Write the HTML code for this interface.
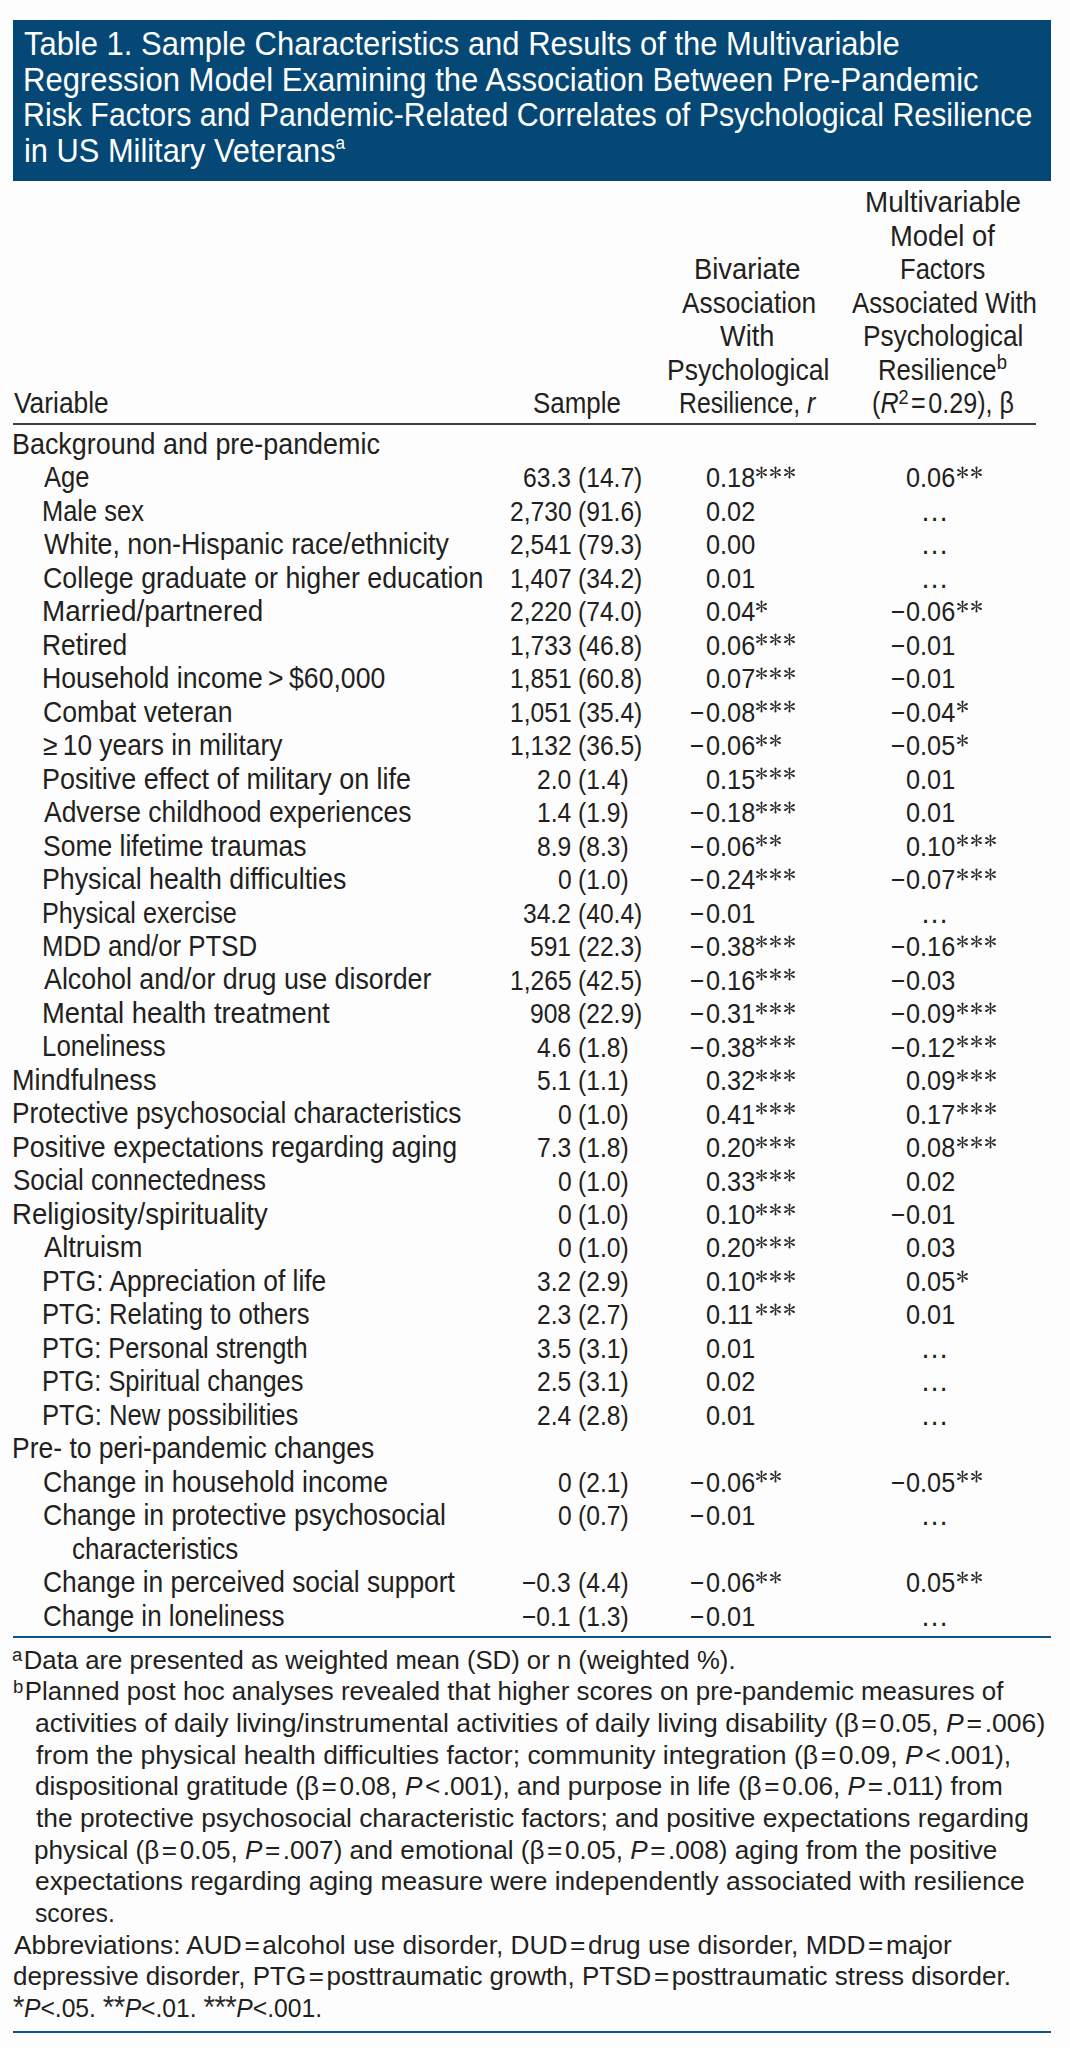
<!DOCTYPE html><html><head><meta charset='utf-8'><style>
*{margin:0;padding:0;box-sizing:border-box}
html,body{width:1070px;height:2048px;background:#fdfdfd;overflow:hidden}
body{position:relative;font-family:"Liberation Sans",sans-serif;color:#231f20}
.t{position:absolute;white-space:nowrap;line-height:1;transform-origin:0 0}
sup{font-size:0.72em;vertical-align:baseline;position:relative;top:-0.42em;line-height:0}
i{font-style:italic}
.ast{font-size:1.2em;letter-spacing:-0.02em;line-height:0;position:relative;top:0.04em;color:#2a2a2a}
.fsup{margin-right:0.08em}
.eq{margin:0 0.1em}
.tsup{font-size:0.56em;top:-0.67em}
.hsup{top:-0.5em}
.ak{position:absolute;width:13px;height:13px}
.ast2{font-size:31.5px;letter-spacing:1.94px;position:relative;top:0px;color:#3a3a3a}
</style></head><body><div style='position:absolute;left:13px;top:19.5px;width:1038px;height:161.5px;background:#054876'></div>
<div style='position:absolute;left:13px;top:423px;width:1023px;height:2px;background:#404040'></div>
<div style='position:absolute;left:13px;top:1636px;width:1038px;height:2px;background:#0f5488'></div>
<div style='position:absolute;left:13px;top:2030.5px;width:1038px;height:2px;background:#0f5488'></div>
<div class='t' style='left:23.57px;top:27.19px;font-size:33.2px;transform:scaleX(0.9328);color:#ffffff'>Table 1. Sample Characteristics and Results of the Multivariable</div>
<div class='t' style='left:22.90px;top:62.79px;font-size:33.2px;transform:scaleX(0.9350);color:#ffffff'>Regression Model Examining the Association Between Pre-Pandemic</div>
<div class='t' style='left:22.96px;top:98.39px;font-size:33.2px;transform:scaleX(0.9135);color:#ffffff'>Risk Factors and Pandemic-Related Correlates of Psychological Resilience</div>
<div class='t' style='left:23.84px;top:133.79px;font-size:33.2px;transform:scaleX(0.9282);color:#ffffff'>in US Military Veterans<sup class="tsup">a</sup></div>
<div class='t' style='left:13.50px;top:388.98px;font-size:28.6px;transform:scaleX(0.9216)'>Variable</div>
<div class='t' style='left:532.59px;top:388.98px;font-size:28.6px;transform:scaleX(0.9063)'>Sample</div>
<div class='t' style='left:694.35px;top:255.06px;font-size:28.6px;transform:scaleX(0.9580)'>Bivariate</div>
<div class='t' style='left:681.50px;top:288.54px;font-size:28.6px;transform:scaleX(0.9179)'>Association</div>
<div class='t' style='left:720.40px;top:322.02px;font-size:28.6px;transform:scaleX(0.9500)'>With</div>
<div class='t' style='left:666.74px;top:355.50px;font-size:28.6px;transform:scaleX(0.9287)'>Psychological</div>
<div class='t' style='left:679.17px;top:388.98px;font-size:28.6px;transform:scaleX(0.8660)'>Resilience, <i>r</i></div>
<div class='t' style='left:865.06px;top:188.10px;font-size:28.6px;transform:scaleX(0.9720)'>Multivariable</div>
<div class='t' style='left:890.39px;top:221.58px;font-size:28.6px;transform:scaleX(0.9556)'>Model of</div>
<div class='t' style='left:900.21px;top:255.06px;font-size:28.6px;transform:scaleX(0.8946)'>Factors</div>
<div class='t' style='left:851.50px;top:288.54px;font-size:28.6px;transform:scaleX(0.9020)'>Associated With</div>
<div class='t' style='left:862.56px;top:322.02px;font-size:28.6px;transform:scaleX(0.9175)'>Psychological</div>
<div class='t' style='left:878.10px;top:355.50px;font-size:28.6px;transform:scaleX(0.8993)'>Resilience<sup class="hsup">b</sup></div>
<div class='t' style='left:872.24px;top:388.98px;font-size:28.6px;transform:scaleX(0.8792)'>(<i>R</i><sup>2</sup><span class="eq">=</span>0.29), β</div>
<div class='t' style='left:12.12px;top:429.78px;font-size:28.6px;transform:scaleX(0.9407)'>Background and pre-pandemic</div>
<div class='t' style='left:43.80px;top:463.26px;font-size:28.6px;transform:scaleX(0.8940)'>Age</div>
<div class='t' style='left:523.24px;top:464.45px;font-size:27.2px;transform:scaleX(0.9050)'>63.3</div>
<div class='t' style='left:578.19px;top:464.45px;font-size:27.2px;transform:scaleX(0.9050)'>(14.7)</div>
<div class='t' style='left:705.67px;top:464.45px;font-size:27.2px;transform:scaleX(0.9294)'>0.18</div>
<div class='t' style='left:906.47px;top:464.45px;font-size:27.2px;transform:scaleX(0.9294)'>0.06</div>
<div class='t' style='left:42.02px;top:496.74px;font-size:28.6px;transform:scaleX(0.8902)'>Male sex</div>
<div class='t' style='left:509.66px;top:497.93px;font-size:27.2px;transform:scaleX(0.9050)'>2,730</div>
<div class='t' style='left:578.19px;top:497.93px;font-size:27.2px;transform:scaleX(0.9050)'>(91.6)</div>
<div class='t' style='left:705.67px;top:497.93px;font-size:27.2px;transform:scaleX(0.9294)'>0.02</div>
<div class='t' style='left:920.30px;top:496.74px;font-size:28.6px'>…</div>
<div class='t' style='left:43.80px;top:530.22px;font-size:28.6px;transform:scaleX(0.9368)'>White, non-Hispanic race/ethnicity</div>
<div class='t' style='left:509.66px;top:531.41px;font-size:27.2px;transform:scaleX(0.9050)'>2,541</div>
<div class='t' style='left:578.19px;top:531.41px;font-size:27.2px;transform:scaleX(0.9050)'>(79.3)</div>
<div class='t' style='left:705.67px;top:531.41px;font-size:27.2px;transform:scaleX(0.9294)'>0.00</div>
<div class='t' style='left:920.30px;top:530.22px;font-size:28.6px'>…</div>
<div class='t' style='left:42.86px;top:563.70px;font-size:28.6px;transform:scaleX(0.9357)'>College graduate or higher education</div>
<div class='t' style='left:509.66px;top:564.89px;font-size:27.2px;transform:scaleX(0.9050)'>1,407</div>
<div class='t' style='left:578.19px;top:564.89px;font-size:27.2px;transform:scaleX(0.9050)'>(34.2)</div>
<div class='t' style='left:705.67px;top:564.89px;font-size:27.2px;transform:scaleX(0.9294)'>0.01</div>
<div class='t' style='left:920.30px;top:563.70px;font-size:28.6px'>…</div>
<div class='t' style='left:41.85px;top:597.18px;font-size:28.6px;transform:scaleX(0.9740)'>Married/partnered</div>
<div class='t' style='left:509.66px;top:598.37px;font-size:27.2px;transform:scaleX(0.9050)'>2,220</div>
<div class='t' style='left:578.19px;top:598.37px;font-size:27.2px;transform:scaleX(0.9050)'>(74.0)</div>
<div class='t' style='left:705.67px;top:598.37px;font-size:27.2px;transform:scaleX(0.9294)'>0.04</div>
<div class='t' style='left:906.47px;top:598.37px;font-size:27.2px;transform:scaleX(0.9294)'>0.06</div>
<div class='t' style='left:891.12px;top:598.37px;font-size:27.2px;transform:scaleX(0.9050)'>−</div>
<div class='t' style='left:41.95px;top:630.66px;font-size:28.6px;transform:scaleX(0.9227)'>Retired</div>
<div class='t' style='left:509.66px;top:631.85px;font-size:27.2px;transform:scaleX(0.9050)'>1,733</div>
<div class='t' style='left:578.19px;top:631.85px;font-size:27.2px;transform:scaleX(0.9050)'>(46.8)</div>
<div class='t' style='left:705.67px;top:631.85px;font-size:27.2px;transform:scaleX(0.9294)'>0.06</div>
<div class='t' style='left:906.47px;top:631.85px;font-size:27.2px;transform:scaleX(0.9294)'>0.01</div>
<div class='t' style='left:891.12px;top:631.85px;font-size:27.2px;transform:scaleX(0.9050)'>−</div>
<div class='t' style='left:41.94px;top:664.14px;font-size:28.6px;transform:scaleX(0.9321)'>Household income > $60,000</div>
<div class='t' style='left:509.66px;top:665.33px;font-size:27.2px;transform:scaleX(0.9050)'>1,851</div>
<div class='t' style='left:578.19px;top:665.33px;font-size:27.2px;transform:scaleX(0.9050)'>(60.8)</div>
<div class='t' style='left:705.67px;top:665.33px;font-size:27.2px;transform:scaleX(0.9294)'>0.07</div>
<div class='t' style='left:906.47px;top:665.33px;font-size:27.2px;transform:scaleX(0.9294)'>0.01</div>
<div class='t' style='left:891.12px;top:665.33px;font-size:27.2px;transform:scaleX(0.9050)'>−</div>
<div class='t' style='left:42.87px;top:697.62px;font-size:28.6px;transform:scaleX(0.9313)'>Combat veteran</div>
<div class='t' style='left:509.66px;top:698.81px;font-size:27.2px;transform:scaleX(0.9050)'>1,051</div>
<div class='t' style='left:578.19px;top:698.81px;font-size:27.2px;transform:scaleX(0.9050)'>(35.4)</div>
<div class='t' style='left:705.67px;top:698.81px;font-size:27.2px;transform:scaleX(0.9294)'>0.08</div>
<div class='t' style='left:690.32px;top:698.81px;font-size:27.2px;transform:scaleX(0.9050)'>−</div>
<div class='t' style='left:906.47px;top:698.81px;font-size:27.2px;transform:scaleX(0.9294)'>0.04</div>
<div class='t' style='left:891.12px;top:698.81px;font-size:27.2px;transform:scaleX(0.9050)'>−</div>
<div class='t' style='left:42.88px;top:731.10px;font-size:28.6px;transform:scaleX(0.9216)'>≥ 10 years in military</div>
<div class='t' style='left:509.66px;top:732.29px;font-size:27.2px;transform:scaleX(0.9050)'>1,132</div>
<div class='t' style='left:578.19px;top:732.29px;font-size:27.2px;transform:scaleX(0.9050)'>(36.5)</div>
<div class='t' style='left:705.67px;top:732.29px;font-size:27.2px;transform:scaleX(0.9294)'>0.06</div>
<div class='t' style='left:690.32px;top:732.29px;font-size:27.2px;transform:scaleX(0.9050)'>−</div>
<div class='t' style='left:906.47px;top:732.29px;font-size:27.2px;transform:scaleX(0.9294)'>0.05</div>
<div class='t' style='left:891.12px;top:732.29px;font-size:27.2px;transform:scaleX(0.9050)'>−</div>
<div class='t' style='left:41.92px;top:764.58px;font-size:28.6px;transform:scaleX(0.9414)'>Positive effect of military on life</div>
<div class='t' style='left:536.81px;top:765.77px;font-size:27.2px;transform:scaleX(0.9050)'>2.0</div>
<div class='t' style='left:578.19px;top:765.77px;font-size:27.2px;transform:scaleX(0.9050)'>(1.4)</div>
<div class='t' style='left:705.67px;top:765.77px;font-size:27.2px;transform:scaleX(0.9294)'>0.15</div>
<div class='t' style='left:906.47px;top:765.77px;font-size:27.2px;transform:scaleX(0.9294)'>0.01</div>
<div class='t' style='left:43.80px;top:798.06px;font-size:28.6px;transform:scaleX(0.9247)'>Adverse childhood experiences</div>
<div class='t' style='left:536.81px;top:799.25px;font-size:27.2px;transform:scaleX(0.9050)'>1.4</div>
<div class='t' style='left:578.19px;top:799.25px;font-size:27.2px;transform:scaleX(0.9050)'>(1.9)</div>
<div class='t' style='left:705.67px;top:799.25px;font-size:27.2px;transform:scaleX(0.9294)'>0.18</div>
<div class='t' style='left:690.32px;top:799.25px;font-size:27.2px;transform:scaleX(0.9050)'>−</div>
<div class='t' style='left:906.47px;top:799.25px;font-size:27.2px;transform:scaleX(0.9294)'>0.01</div>
<div class='t' style='left:42.87px;top:831.54px;font-size:28.6px;transform:scaleX(0.9265)'>Some lifetime traumas</div>
<div class='t' style='left:536.81px;top:832.73px;font-size:27.2px;transform:scaleX(0.9050)'>8.9</div>
<div class='t' style='left:578.19px;top:832.73px;font-size:27.2px;transform:scaleX(0.9050)'>(8.3)</div>
<div class='t' style='left:705.67px;top:832.73px;font-size:27.2px;transform:scaleX(0.9294)'>0.06</div>
<div class='t' style='left:690.32px;top:832.73px;font-size:27.2px;transform:scaleX(0.9050)'>−</div>
<div class='t' style='left:906.47px;top:832.73px;font-size:27.2px;transform:scaleX(0.9294)'>0.10</div>
<div class='t' style='left:41.93px;top:865.02px;font-size:28.6px;transform:scaleX(0.9354)'>Physical health difficulties</div>
<div class='t' style='left:557.63px;top:866.21px;font-size:27.2px;transform:scaleX(0.9050)'>0</div>
<div class='t' style='left:578.19px;top:866.21px;font-size:27.2px;transform:scaleX(0.9050)'>(1.0)</div>
<div class='t' style='left:705.67px;top:866.21px;font-size:27.2px;transform:scaleX(0.9294)'>0.24</div>
<div class='t' style='left:690.32px;top:866.21px;font-size:27.2px;transform:scaleX(0.9050)'>−</div>
<div class='t' style='left:906.47px;top:866.21px;font-size:27.2px;transform:scaleX(0.9294)'>0.07</div>
<div class='t' style='left:891.12px;top:866.21px;font-size:27.2px;transform:scaleX(0.9050)'>−</div>
<div class='t' style='left:42.04px;top:898.50px;font-size:28.6px;transform:scaleX(0.8817)'>Physical exercise</div>
<div class='t' style='left:523.24px;top:899.69px;font-size:27.2px;transform:scaleX(0.9050)'>34.2</div>
<div class='t' style='left:578.19px;top:899.69px;font-size:27.2px;transform:scaleX(0.9050)'>(40.4)</div>
<div class='t' style='left:705.67px;top:899.69px;font-size:27.2px;transform:scaleX(0.9294)'>0.01</div>
<div class='t' style='left:690.32px;top:899.69px;font-size:27.2px;transform:scaleX(0.9050)'>−</div>
<div class='t' style='left:920.30px;top:898.50px;font-size:28.6px'>…</div>
<div class='t' style='left:41.99px;top:931.98px;font-size:28.6px;transform:scaleX(0.9030)'>MDD and/or PTSD</div>
<div class='t' style='left:530.48px;top:933.17px;font-size:27.2px;transform:scaleX(0.9050)'>591</div>
<div class='t' style='left:578.19px;top:933.17px;font-size:27.2px;transform:scaleX(0.9050)'>(22.3)</div>
<div class='t' style='left:705.67px;top:933.17px;font-size:27.2px;transform:scaleX(0.9294)'>0.38</div>
<div class='t' style='left:690.32px;top:933.17px;font-size:27.2px;transform:scaleX(0.9050)'>−</div>
<div class='t' style='left:906.47px;top:933.17px;font-size:27.2px;transform:scaleX(0.9294)'>0.16</div>
<div class='t' style='left:891.12px;top:933.17px;font-size:27.2px;transform:scaleX(0.9050)'>−</div>
<div class='t' style='left:43.80px;top:965.46px;font-size:28.6px;transform:scaleX(0.9375)'>Alcohol and/or drug use disorder</div>
<div class='t' style='left:509.66px;top:966.65px;font-size:27.2px;transform:scaleX(0.9050)'>1,265</div>
<div class='t' style='left:578.19px;top:966.65px;font-size:27.2px;transform:scaleX(0.9050)'>(42.5)</div>
<div class='t' style='left:705.67px;top:966.65px;font-size:27.2px;transform:scaleX(0.9294)'>0.16</div>
<div class='t' style='left:690.32px;top:966.65px;font-size:27.2px;transform:scaleX(0.9050)'>−</div>
<div class='t' style='left:906.47px;top:966.65px;font-size:27.2px;transform:scaleX(0.9294)'>0.03</div>
<div class='t' style='left:891.12px;top:966.65px;font-size:27.2px;transform:scaleX(0.9050)'>−</div>
<div class='t' style='left:41.89px;top:998.94px;font-size:28.6px;transform:scaleX(0.9570)'>Mental health treatment</div>
<div class='t' style='left:530.48px;top:1000.13px;font-size:27.2px;transform:scaleX(0.9050)'>908</div>
<div class='t' style='left:578.19px;top:1000.13px;font-size:27.2px;transform:scaleX(0.9050)'>(22.9)</div>
<div class='t' style='left:705.67px;top:1000.13px;font-size:27.2px;transform:scaleX(0.9294)'>0.31</div>
<div class='t' style='left:690.32px;top:1000.13px;font-size:27.2px;transform:scaleX(0.9050)'>−</div>
<div class='t' style='left:906.47px;top:1000.13px;font-size:27.2px;transform:scaleX(0.9294)'>0.09</div>
<div class='t' style='left:891.12px;top:1000.13px;font-size:27.2px;transform:scaleX(0.9050)'>−</div>
<div class='t' style='left:41.99px;top:1032.42px;font-size:28.6px;transform:scaleX(0.9045)'>Loneliness</div>
<div class='t' style='left:536.81px;top:1033.61px;font-size:27.2px;transform:scaleX(0.9050)'>4.6</div>
<div class='t' style='left:578.19px;top:1033.61px;font-size:27.2px;transform:scaleX(0.9050)'>(1.8)</div>
<div class='t' style='left:705.67px;top:1033.61px;font-size:27.2px;transform:scaleX(0.9294)'>0.38</div>
<div class='t' style='left:690.32px;top:1033.61px;font-size:27.2px;transform:scaleX(0.9050)'>−</div>
<div class='t' style='left:906.47px;top:1033.61px;font-size:27.2px;transform:scaleX(0.9294)'>0.12</div>
<div class='t' style='left:891.12px;top:1033.61px;font-size:27.2px;transform:scaleX(0.9050)'>−</div>
<div class='t' style='left:12.11px;top:1065.90px;font-size:28.6px;transform:scaleX(0.9467)'>Mindfulness</div>
<div class='t' style='left:536.81px;top:1067.09px;font-size:27.2px;transform:scaleX(0.9050)'>5.1</div>
<div class='t' style='left:578.19px;top:1067.09px;font-size:27.2px;transform:scaleX(0.9050)'>(1.1)</div>
<div class='t' style='left:705.67px;top:1067.09px;font-size:27.2px;transform:scaleX(0.9294)'>0.32</div>
<div class='t' style='left:906.47px;top:1067.09px;font-size:27.2px;transform:scaleX(0.9294)'>0.09</div>
<div class='t' style='left:12.16px;top:1099.38px;font-size:28.6px;transform:scaleX(0.9179)'>Protective psychosocial characteristics</div>
<div class='t' style='left:557.63px;top:1100.57px;font-size:27.2px;transform:scaleX(0.9050)'>0</div>
<div class='t' style='left:578.19px;top:1100.57px;font-size:27.2px;transform:scaleX(0.9050)'>(1.0)</div>
<div class='t' style='left:705.67px;top:1100.57px;font-size:27.2px;transform:scaleX(0.9294)'>0.41</div>
<div class='t' style='left:906.47px;top:1100.57px;font-size:27.2px;transform:scaleX(0.9294)'>0.17</div>
<div class='t' style='left:12.13px;top:1132.86px;font-size:28.6px;transform:scaleX(0.9364)'>Positive expectations regarding aging</div>
<div class='t' style='left:536.81px;top:1134.05px;font-size:27.2px;transform:scaleX(0.9050)'>7.3</div>
<div class='t' style='left:578.19px;top:1134.05px;font-size:27.2px;transform:scaleX(0.9050)'>(1.8)</div>
<div class='t' style='left:705.67px;top:1134.05px;font-size:27.2px;transform:scaleX(0.9294)'>0.20</div>
<div class='t' style='left:906.47px;top:1134.05px;font-size:27.2px;transform:scaleX(0.9294)'>0.08</div>
<div class='t' style='left:13.09px;top:1166.34px;font-size:28.6px;transform:scaleX(0.9094)'>Social connectedness</div>
<div class='t' style='left:557.63px;top:1167.53px;font-size:27.2px;transform:scaleX(0.9050)'>0</div>
<div class='t' style='left:578.19px;top:1167.53px;font-size:27.2px;transform:scaleX(0.9050)'>(1.0)</div>
<div class='t' style='left:705.67px;top:1167.53px;font-size:27.2px;transform:scaleX(0.9294)'>0.33</div>
<div class='t' style='left:906.47px;top:1167.53px;font-size:27.2px;transform:scaleX(0.9294)'>0.02</div>
<div class='t' style='left:12.07px;top:1199.82px;font-size:28.6px;transform:scaleX(0.9639)'>Religiosity/spirituality</div>
<div class='t' style='left:557.63px;top:1201.01px;font-size:27.2px;transform:scaleX(0.9050)'>0</div>
<div class='t' style='left:578.19px;top:1201.01px;font-size:27.2px;transform:scaleX(0.9050)'>(1.0)</div>
<div class='t' style='left:705.67px;top:1201.01px;font-size:27.2px;transform:scaleX(0.9294)'>0.10</div>
<div class='t' style='left:906.47px;top:1201.01px;font-size:27.2px;transform:scaleX(0.9294)'>0.01</div>
<div class='t' style='left:891.12px;top:1201.01px;font-size:27.2px;transform:scaleX(0.9050)'>−</div>
<div class='t' style='left:43.80px;top:1233.30px;font-size:28.6px;transform:scaleX(0.9529)'>Altruism</div>
<div class='t' style='left:557.63px;top:1234.49px;font-size:27.2px;transform:scaleX(0.9050)'>0</div>
<div class='t' style='left:578.19px;top:1234.49px;font-size:27.2px;transform:scaleX(0.9050)'>(1.0)</div>
<div class='t' style='left:705.67px;top:1234.49px;font-size:27.2px;transform:scaleX(0.9294)'>0.20</div>
<div class='t' style='left:906.47px;top:1234.49px;font-size:27.2px;transform:scaleX(0.9294)'>0.03</div>
<div class='t' style='left:41.96px;top:1266.78px;font-size:28.6px;transform:scaleX(0.9220)'>PTG: Appreciation of life</div>
<div class='t' style='left:536.81px;top:1267.97px;font-size:27.2px;transform:scaleX(0.9050)'>3.2</div>
<div class='t' style='left:578.19px;top:1267.97px;font-size:27.2px;transform:scaleX(0.9050)'>(2.9)</div>
<div class='t' style='left:705.67px;top:1267.97px;font-size:27.2px;transform:scaleX(0.9294)'>0.10</div>
<div class='t' style='left:906.47px;top:1267.97px;font-size:27.2px;transform:scaleX(0.9294)'>0.05</div>
<div class='t' style='left:42.01px;top:1300.26px;font-size:28.6px;transform:scaleX(0.8959)'>PTG: Relating to others</div>
<div class='t' style='left:536.81px;top:1301.45px;font-size:27.2px;transform:scaleX(0.9050)'>2.3</div>
<div class='t' style='left:578.19px;top:1301.45px;font-size:27.2px;transform:scaleX(0.9050)'>(2.7)</div>
<div class='t' style='left:705.67px;top:1301.45px;font-size:27.2px;transform:scaleX(0.9294)'>0.11</div>
<div class='t' style='left:906.47px;top:1301.45px;font-size:27.2px;transform:scaleX(0.9294)'>0.01</div>
<div class='t' style='left:42.02px;top:1333.74px;font-size:28.6px;transform:scaleX(0.8888)'>PTG: Personal strength</div>
<div class='t' style='left:536.81px;top:1334.93px;font-size:27.2px;transform:scaleX(0.9050)'>3.5</div>
<div class='t' style='left:578.19px;top:1334.93px;font-size:27.2px;transform:scaleX(0.9050)'>(3.1)</div>
<div class='t' style='left:705.67px;top:1334.93px;font-size:27.2px;transform:scaleX(0.9294)'>0.01</div>
<div class='t' style='left:920.30px;top:1333.74px;font-size:28.6px'>…</div>
<div class='t' style='left:42.02px;top:1367.22px;font-size:28.6px;transform:scaleX(0.8890)'>PTG: Spiritual changes</div>
<div class='t' style='left:536.81px;top:1368.41px;font-size:27.2px;transform:scaleX(0.9050)'>2.5</div>
<div class='t' style='left:578.19px;top:1368.41px;font-size:27.2px;transform:scaleX(0.9050)'>(3.1)</div>
<div class='t' style='left:705.67px;top:1368.41px;font-size:27.2px;transform:scaleX(0.9294)'>0.02</div>
<div class='t' style='left:920.30px;top:1367.22px;font-size:28.6px'>…</div>
<div class='t' style='left:42.01px;top:1400.70px;font-size:28.6px;transform:scaleX(0.8965)'>PTG: New possibilities</div>
<div class='t' style='left:536.81px;top:1401.89px;font-size:27.2px;transform:scaleX(0.9050)'>2.4</div>
<div class='t' style='left:578.19px;top:1401.89px;font-size:27.2px;transform:scaleX(0.9050)'>(2.8)</div>
<div class='t' style='left:705.67px;top:1401.89px;font-size:27.2px;transform:scaleX(0.9294)'>0.01</div>
<div class='t' style='left:920.30px;top:1400.70px;font-size:28.6px'>…</div>
<div class='t' style='left:12.15px;top:1434.18px;font-size:28.6px;transform:scaleX(0.9265)'>Pre- to peri-pandemic changes</div>
<div class='t' style='left:42.87px;top:1467.66px;font-size:28.6px;transform:scaleX(0.9313)'>Change in household income</div>
<div class='t' style='left:557.63px;top:1468.85px;font-size:27.2px;transform:scaleX(0.9050)'>0</div>
<div class='t' style='left:578.19px;top:1468.85px;font-size:27.2px;transform:scaleX(0.9050)'>(2.1)</div>
<div class='t' style='left:705.67px;top:1468.85px;font-size:27.2px;transform:scaleX(0.9294)'>0.06</div>
<div class='t' style='left:690.32px;top:1468.85px;font-size:27.2px;transform:scaleX(0.9050)'>−</div>
<div class='t' style='left:906.47px;top:1468.85px;font-size:27.2px;transform:scaleX(0.9294)'>0.05</div>
<div class='t' style='left:891.12px;top:1468.85px;font-size:27.2px;transform:scaleX(0.9050)'>−</div>
<div class='t' style='left:42.87px;top:1501.14px;font-size:28.6px;transform:scaleX(0.9285)'>Change in protective psychosocial</div>
<div class='t' style='left:557.63px;top:1502.33px;font-size:27.2px;transform:scaleX(0.9050)'>0</div>
<div class='t' style='left:578.19px;top:1502.33px;font-size:27.2px;transform:scaleX(0.9050)'>(0.7)</div>
<div class='t' style='left:705.67px;top:1502.33px;font-size:27.2px;transform:scaleX(0.9294)'>0.01</div>
<div class='t' style='left:690.32px;top:1502.33px;font-size:27.2px;transform:scaleX(0.9050)'>−</div>
<div class='t' style='left:920.30px;top:1501.14px;font-size:28.6px'>…</div>
<div class='t' style='left:72.39px;top:1534.62px;font-size:28.6px;transform:scaleX(0.9099)'>characteristics</div>
<div class='t' style='left:42.88px;top:1568.10px;font-size:28.6px;transform:scaleX(0.9220)'>Change in perceived social support</div>
<div class='t' style='left:522.33px;top:1569.29px;font-size:27.2px;transform:scaleX(0.9050)'>−0.3</div>
<div class='t' style='left:578.19px;top:1569.29px;font-size:27.2px;transform:scaleX(0.9050)'>(4.4)</div>
<div class='t' style='left:705.67px;top:1569.29px;font-size:27.2px;transform:scaleX(0.9294)'>0.06</div>
<div class='t' style='left:690.32px;top:1569.29px;font-size:27.2px;transform:scaleX(0.9050)'>−</div>
<div class='t' style='left:906.47px;top:1569.29px;font-size:27.2px;transform:scaleX(0.9294)'>0.05</div>
<div class='t' style='left:42.89px;top:1601.58px;font-size:28.6px;transform:scaleX(0.9098)'>Change in loneliness</div>
<div class='t' style='left:522.33px;top:1602.77px;font-size:27.2px;transform:scaleX(0.9050)'>−0.1</div>
<div class='t' style='left:578.19px;top:1602.77px;font-size:27.2px;transform:scaleX(0.9050)'>(1.3)</div>
<div class='t' style='left:705.67px;top:1602.77px;font-size:27.2px;transform:scaleX(0.9294)'>0.01</div>
<div class='t' style='left:690.32px;top:1602.77px;font-size:27.2px;transform:scaleX(0.9050)'>−</div>
<div class='t' style='left:920.30px;top:1601.58px;font-size:28.6px'>…</div>
<div class='t' style='left:12.49px;top:1647.79px;font-size:25.4px;transform:scaleX(1.0127)'><sup class="fsup">a</sup>Data are presented as weighted mean (SD) or n (weighted %).</div>
<div class='t' style='left:12.98px;top:1679.46px;font-size:25.4px;transform:scaleX(1.0180)'><sup class="fsup">b</sup>Planned post hoc analyses revealed that higher scores on pre-pandemic measures of</div>
<div class='t' style='left:34.95px;top:1711.13px;font-size:25.4px;transform:scaleX(1.0473)'>activities of daily living/instrumental activities of daily living disability (β<span class="eq">=</span>0.05, <i>P</i><span class="eq">=</span>.006)</div>
<div class='t' style='left:36.00px;top:1742.80px;font-size:25.4px;transform:scaleX(1.0435)'>from the physical health difficulties factor; community integration (β<span class="eq">=</span>0.09, <i>P</i><span class="eq">&lt;</span>.001),</div>
<div class='t' style='left:34.97px;top:1774.47px;font-size:25.4px;transform:scaleX(1.0299)'>dispositional gratitude (β<span class="eq">=</span>0.08, <i>P</i><span class="eq">&lt;</span>.001), and purpose in life (β<span class="eq">=</span>0.06, <i>P</i><span class="eq">=</span>.011) from</div>
<div class='t' style='left:36.00px;top:1806.14px;font-size:25.4px;transform:scaleX(1.0361)'>the protective psychosocial characteristic factors; and positive expectations regarding</div>
<div class='t' style='left:33.94px;top:1837.81px;font-size:25.4px;transform:scaleX(1.0278)'>physical (β<span class="eq">=</span>0.05, <i>P</i><span class="eq">=</span>.007) and emotional (β<span class="eq">=</span>0.05, <i>P</i><span class="eq">=</span>.008) aging from the positive</div>
<div class='t' style='left:34.96px;top:1869.48px;font-size:25.4px;transform:scaleX(1.0373)'>expectations regarding aging measure were independently associated with resilience</div>
<div class='t' style='left:35.03px;top:1901.15px;font-size:25.4px;transform:scaleX(0.9747)'>scores.</div>
<div class='t' style='left:14.20px;top:1932.82px;font-size:25.4px;transform:scaleX(1.0345)'>Abbreviations: AUD<span class="eq">=</span>alcohol use disorder, DUD<span class="eq">=</span>drug use disorder, MDD<span class="eq">=</span>major</div>
<div class='t' style='left:12.98px;top:1964.49px;font-size:25.4px;transform:scaleX(1.0231)'>depressive disorder, PTG<span class="eq">=</span>posttraumatic growth, PTSD<span class="eq">=</span>posttraumatic stress disorder.</div>
<div class='t' style='left:13.03px;top:1996.16px;font-size:25.4px;transform:scaleX(0.9714)'><span class="ast">*</span><i>P</i>&lt;.05. <span class="ast">**</span><i>P</i>&lt;.01. <span class="ast">***</span><i>P</i>&lt;.001.</div>
<svg width='0' height='0' style='position:absolute'><defs><symbol id='ak' viewBox='-6.5 -6.5 13 13'><g fill='#2a2a2a'><path transform='rotate(0)' d='M-0.3,0 L-1.05,-5.0 A1.05,1.05 0 1 1 1.05,-5.0 L0.3,0 Z'/><path transform='rotate(60)' d='M-0.3,0 L-1.05,-5.0 A1.05,1.05 0 1 1 1.05,-5.0 L0.3,0 Z'/><path transform='rotate(120)' d='M-0.3,0 L-1.05,-5.0 A1.05,1.05 0 1 1 1.05,-5.0 L0.3,0 Z'/><path transform='rotate(180)' d='M-0.3,0 L-1.05,-5.0 A1.05,1.05 0 1 1 1.05,-5.0 L0.3,0 Z'/><path transform='rotate(240)' d='M-0.3,0 L-1.05,-5.0 A1.05,1.05 0 1 1 1.05,-5.0 L0.3,0 Z'/><path transform='rotate(300)' d='M-0.3,0 L-1.05,-5.0 A1.05,1.05 0 1 1 1.05,-5.0 L0.3,0 Z'/></g></symbol></defs></svg>
<svg class='ak' style='left:754.60px;top:465.98px'><use href='#ak' width='13' height='13'/></svg>
<svg class='ak' style='left:768.90px;top:465.98px'><use href='#ak' width='13' height='13'/></svg>
<svg class='ak' style='left:783.20px;top:465.98px'><use href='#ak' width='13' height='13'/></svg>
<svg class='ak' style='left:955.50px;top:465.98px'><use href='#ak' width='13' height='13'/></svg>
<svg class='ak' style='left:969.80px;top:465.98px'><use href='#ak' width='13' height='13'/></svg>
<svg class='ak' style='left:754.60px;top:599.90px'><use href='#ak' width='13' height='13'/></svg>
<svg class='ak' style='left:955.50px;top:599.90px'><use href='#ak' width='13' height='13'/></svg>
<svg class='ak' style='left:969.80px;top:599.90px'><use href='#ak' width='13' height='13'/></svg>
<svg class='ak' style='left:754.60px;top:633.38px'><use href='#ak' width='13' height='13'/></svg>
<svg class='ak' style='left:768.90px;top:633.38px'><use href='#ak' width='13' height='13'/></svg>
<svg class='ak' style='left:783.20px;top:633.38px'><use href='#ak' width='13' height='13'/></svg>
<svg class='ak' style='left:754.60px;top:666.86px'><use href='#ak' width='13' height='13'/></svg>
<svg class='ak' style='left:768.90px;top:666.86px'><use href='#ak' width='13' height='13'/></svg>
<svg class='ak' style='left:783.20px;top:666.86px'><use href='#ak' width='13' height='13'/></svg>
<svg class='ak' style='left:754.60px;top:700.34px'><use href='#ak' width='13' height='13'/></svg>
<svg class='ak' style='left:768.90px;top:700.34px'><use href='#ak' width='13' height='13'/></svg>
<svg class='ak' style='left:783.20px;top:700.34px'><use href='#ak' width='13' height='13'/></svg>
<svg class='ak' style='left:955.50px;top:700.34px'><use href='#ak' width='13' height='13'/></svg>
<svg class='ak' style='left:754.60px;top:733.82px'><use href='#ak' width='13' height='13'/></svg>
<svg class='ak' style='left:768.90px;top:733.82px'><use href='#ak' width='13' height='13'/></svg>
<svg class='ak' style='left:955.50px;top:733.82px'><use href='#ak' width='13' height='13'/></svg>
<svg class='ak' style='left:754.60px;top:767.30px'><use href='#ak' width='13' height='13'/></svg>
<svg class='ak' style='left:768.90px;top:767.30px'><use href='#ak' width='13' height='13'/></svg>
<svg class='ak' style='left:783.20px;top:767.30px'><use href='#ak' width='13' height='13'/></svg>
<svg class='ak' style='left:754.60px;top:800.78px'><use href='#ak' width='13' height='13'/></svg>
<svg class='ak' style='left:768.90px;top:800.78px'><use href='#ak' width='13' height='13'/></svg>
<svg class='ak' style='left:783.20px;top:800.78px'><use href='#ak' width='13' height='13'/></svg>
<svg class='ak' style='left:754.60px;top:834.26px'><use href='#ak' width='13' height='13'/></svg>
<svg class='ak' style='left:768.90px;top:834.26px'><use href='#ak' width='13' height='13'/></svg>
<svg class='ak' style='left:955.50px;top:834.26px'><use href='#ak' width='13' height='13'/></svg>
<svg class='ak' style='left:969.80px;top:834.26px'><use href='#ak' width='13' height='13'/></svg>
<svg class='ak' style='left:984.10px;top:834.26px'><use href='#ak' width='13' height='13'/></svg>
<svg class='ak' style='left:754.60px;top:867.74px'><use href='#ak' width='13' height='13'/></svg>
<svg class='ak' style='left:768.90px;top:867.74px'><use href='#ak' width='13' height='13'/></svg>
<svg class='ak' style='left:783.20px;top:867.74px'><use href='#ak' width='13' height='13'/></svg>
<svg class='ak' style='left:955.50px;top:867.74px'><use href='#ak' width='13' height='13'/></svg>
<svg class='ak' style='left:969.80px;top:867.74px'><use href='#ak' width='13' height='13'/></svg>
<svg class='ak' style='left:984.10px;top:867.74px'><use href='#ak' width='13' height='13'/></svg>
<svg class='ak' style='left:754.60px;top:934.70px'><use href='#ak' width='13' height='13'/></svg>
<svg class='ak' style='left:768.90px;top:934.70px'><use href='#ak' width='13' height='13'/></svg>
<svg class='ak' style='left:783.20px;top:934.70px'><use href='#ak' width='13' height='13'/></svg>
<svg class='ak' style='left:955.50px;top:934.70px'><use href='#ak' width='13' height='13'/></svg>
<svg class='ak' style='left:969.80px;top:934.70px'><use href='#ak' width='13' height='13'/></svg>
<svg class='ak' style='left:984.10px;top:934.70px'><use href='#ak' width='13' height='13'/></svg>
<svg class='ak' style='left:754.60px;top:968.18px'><use href='#ak' width='13' height='13'/></svg>
<svg class='ak' style='left:768.90px;top:968.18px'><use href='#ak' width='13' height='13'/></svg>
<svg class='ak' style='left:783.20px;top:968.18px'><use href='#ak' width='13' height='13'/></svg>
<svg class='ak' style='left:754.60px;top:1001.66px'><use href='#ak' width='13' height='13'/></svg>
<svg class='ak' style='left:768.90px;top:1001.66px'><use href='#ak' width='13' height='13'/></svg>
<svg class='ak' style='left:783.20px;top:1001.66px'><use href='#ak' width='13' height='13'/></svg>
<svg class='ak' style='left:955.50px;top:1001.66px'><use href='#ak' width='13' height='13'/></svg>
<svg class='ak' style='left:969.80px;top:1001.66px'><use href='#ak' width='13' height='13'/></svg>
<svg class='ak' style='left:984.10px;top:1001.66px'><use href='#ak' width='13' height='13'/></svg>
<svg class='ak' style='left:754.60px;top:1035.14px'><use href='#ak' width='13' height='13'/></svg>
<svg class='ak' style='left:768.90px;top:1035.14px'><use href='#ak' width='13' height='13'/></svg>
<svg class='ak' style='left:783.20px;top:1035.14px'><use href='#ak' width='13' height='13'/></svg>
<svg class='ak' style='left:955.50px;top:1035.14px'><use href='#ak' width='13' height='13'/></svg>
<svg class='ak' style='left:969.80px;top:1035.14px'><use href='#ak' width='13' height='13'/></svg>
<svg class='ak' style='left:984.10px;top:1035.14px'><use href='#ak' width='13' height='13'/></svg>
<svg class='ak' style='left:754.60px;top:1068.62px'><use href='#ak' width='13' height='13'/></svg>
<svg class='ak' style='left:768.90px;top:1068.62px'><use href='#ak' width='13' height='13'/></svg>
<svg class='ak' style='left:783.20px;top:1068.62px'><use href='#ak' width='13' height='13'/></svg>
<svg class='ak' style='left:955.50px;top:1068.62px'><use href='#ak' width='13' height='13'/></svg>
<svg class='ak' style='left:969.80px;top:1068.62px'><use href='#ak' width='13' height='13'/></svg>
<svg class='ak' style='left:984.10px;top:1068.62px'><use href='#ak' width='13' height='13'/></svg>
<svg class='ak' style='left:754.60px;top:1102.10px'><use href='#ak' width='13' height='13'/></svg>
<svg class='ak' style='left:768.90px;top:1102.10px'><use href='#ak' width='13' height='13'/></svg>
<svg class='ak' style='left:783.20px;top:1102.10px'><use href='#ak' width='13' height='13'/></svg>
<svg class='ak' style='left:955.50px;top:1102.10px'><use href='#ak' width='13' height='13'/></svg>
<svg class='ak' style='left:969.80px;top:1102.10px'><use href='#ak' width='13' height='13'/></svg>
<svg class='ak' style='left:984.10px;top:1102.10px'><use href='#ak' width='13' height='13'/></svg>
<svg class='ak' style='left:754.60px;top:1135.58px'><use href='#ak' width='13' height='13'/></svg>
<svg class='ak' style='left:768.90px;top:1135.58px'><use href='#ak' width='13' height='13'/></svg>
<svg class='ak' style='left:783.20px;top:1135.58px'><use href='#ak' width='13' height='13'/></svg>
<svg class='ak' style='left:955.50px;top:1135.58px'><use href='#ak' width='13' height='13'/></svg>
<svg class='ak' style='left:969.80px;top:1135.58px'><use href='#ak' width='13' height='13'/></svg>
<svg class='ak' style='left:984.10px;top:1135.58px'><use href='#ak' width='13' height='13'/></svg>
<svg class='ak' style='left:754.60px;top:1169.06px'><use href='#ak' width='13' height='13'/></svg>
<svg class='ak' style='left:768.90px;top:1169.06px'><use href='#ak' width='13' height='13'/></svg>
<svg class='ak' style='left:783.20px;top:1169.06px'><use href='#ak' width='13' height='13'/></svg>
<svg class='ak' style='left:754.60px;top:1202.54px'><use href='#ak' width='13' height='13'/></svg>
<svg class='ak' style='left:768.90px;top:1202.54px'><use href='#ak' width='13' height='13'/></svg>
<svg class='ak' style='left:783.20px;top:1202.54px'><use href='#ak' width='13' height='13'/></svg>
<svg class='ak' style='left:754.60px;top:1236.02px'><use href='#ak' width='13' height='13'/></svg>
<svg class='ak' style='left:768.90px;top:1236.02px'><use href='#ak' width='13' height='13'/></svg>
<svg class='ak' style='left:783.20px;top:1236.02px'><use href='#ak' width='13' height='13'/></svg>
<svg class='ak' style='left:754.60px;top:1269.50px'><use href='#ak' width='13' height='13'/></svg>
<svg class='ak' style='left:768.90px;top:1269.50px'><use href='#ak' width='13' height='13'/></svg>
<svg class='ak' style='left:783.20px;top:1269.50px'><use href='#ak' width='13' height='13'/></svg>
<svg class='ak' style='left:955.50px;top:1269.50px'><use href='#ak' width='13' height='13'/></svg>
<svg class='ak' style='left:754.60px;top:1302.98px'><use href='#ak' width='13' height='13'/></svg>
<svg class='ak' style='left:768.90px;top:1302.98px'><use href='#ak' width='13' height='13'/></svg>
<svg class='ak' style='left:783.20px;top:1302.98px'><use href='#ak' width='13' height='13'/></svg>
<svg class='ak' style='left:754.60px;top:1470.38px'><use href='#ak' width='13' height='13'/></svg>
<svg class='ak' style='left:768.90px;top:1470.38px'><use href='#ak' width='13' height='13'/></svg>
<svg class='ak' style='left:955.50px;top:1470.38px'><use href='#ak' width='13' height='13'/></svg>
<svg class='ak' style='left:969.80px;top:1470.38px'><use href='#ak' width='13' height='13'/></svg>
<svg class='ak' style='left:754.60px;top:1570.82px'><use href='#ak' width='13' height='13'/></svg>
<svg class='ak' style='left:768.90px;top:1570.82px'><use href='#ak' width='13' height='13'/></svg>
<svg class='ak' style='left:955.50px;top:1570.82px'><use href='#ak' width='13' height='13'/></svg>
<svg class='ak' style='left:969.80px;top:1570.82px'><use href='#ak' width='13' height='13'/></svg></body></html>
